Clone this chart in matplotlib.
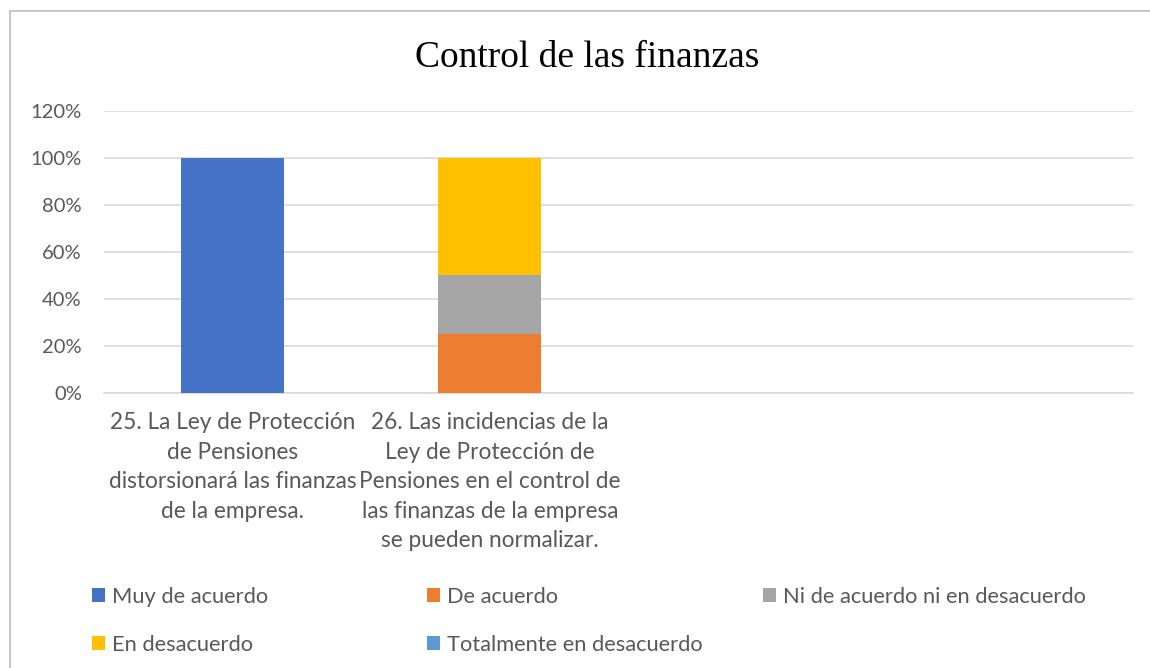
import matplotlib
matplotlib.use("Agg")
import matplotlib.pyplot as plt
from matplotlib.patches import Rectangle, Patch
import numpy as np

categories = [
    "25. La Ley de Protección\nde Pensiones\ndistorsionará las finanzas\nde la empresa.",
    "26. Las incidencias de la\nLey de Protección de\nPensiones en el control de\nlas finanzas de la empresa\nse pueden normalizar.",
    "",
    "",
]
series_names = ["Muy de acuerdo", "De acuerdo", "Ni de acuerdo ni en desacuerdo",
                "En desacuerdo", "Totalmente en desacuerdo"]
muy_de_acuerdo = [1.00, 0.00, 0.0, 0.0]
de_acuerdo = [0.00, 0.25, 0.0, 0.0]
ni_ni = [0.00, 0.25, 0.0, 0.0]
en_desacuerdo = [0.00, 0.50, 0.0, 0.0]
totalmente_desacuerdo = [0.00, 0.00, 0.0, 0.0]
series_values = [muy_de_acuerdo, de_acuerdo, ni_ni, en_desacuerdo, totalmente_desacuerdo]
colors = ["#4472C4", "#ED7D31", "#A5A5A5", "#FFC000", "#5B9BD5"]
yticks = [0, 0.2, 0.4, 0.6, 0.8, 1.0, 1.2]
ytick_labels = ["0%", "20%", "40%", "60%", "80%", "100%", "120%"]
title = "Control de las finanzas"

W, H = 1150, 668
fig = plt.figure(figsize=(W / 100, H / 100), dpi=100)
ax = fig.add_axes([104 / W, 1 - 393 / H, (1133 - 104) / W, (393 - 111) / H])

x = np.arange(len(categories))
bottom = np.zeros(len(categories))
for name, vals, c in zip(series_names, series_values, colors):
    vals = np.array(vals)
    ax.bar(x, vals, width=0.4, bottom=bottom, color=c, label=name, zorder=3)
    bottom += vals

ax.set_xlim(-0.5, len(categories) - 0.5)
ax.set_ylim(0, 1.2)
ax.set_yticks(yticks)
ax.set_yticklabels(ytick_labels, fontsize=14.5, color="#595959", family="Lato")
ax.set_xticks(x)
ax.set_xticklabels(categories, fontsize=16.3, color="#595959", family="Lato",
                   linespacing=1.5, va="top")
ax.tick_params(axis="both", length=0)
ax.tick_params(axis="y", pad=16)
ax.tick_params(axis="x", pad=14)
ax.grid(axis="y", color="#D9D9D9", linewidth=1.2, zorder=0)
for s in ["top", "right", "left"]:
    ax.spines[s].set_visible(False)
ax.spines["bottom"].set_color("#D9D9D9")
ax.spines["bottom"].set_linewidth(1.2)

fig.text(587 / W, 1 - 58 / H, title, ha="center", va="center",
         fontsize=27, family="Liberation Serif", color="black")

# outer chart border
fig.add_artist(Rectangle((10 / W, -0.05), 1.2, 1 - 11 / H + 0.05, transform=fig.transFigure,
                         fill=False, edgecolor="#BFBFBF", linewidth=1.2))

# legend laid out in a 3-column grid (row-major order)
handles = [Patch(facecolor=c, edgecolor="none") for c in colors]
col_x = [92, 427, 763]
col_items = [[0, 3], [1, 4], [2]]
for cx, items in zip(col_x, col_items):
    leg = fig.legend([handles[i] for i in items], [series_names[i] for i in items],
                     loc="upper left", bbox_to_anchor=(cx / W, 1 - 587 / H),
                     frameon=False, ncol=1, handlelength=0.6, handleheight=0.6,
                     handletextpad=0.3, labelspacing=1.27, borderaxespad=0,
                     borderpad=0, prop={"family": "Lato", "size": 15.75})
    for t in leg.get_texts():
        t.set_color("#595959")

fig.savefig("out.png", dpi=100)
